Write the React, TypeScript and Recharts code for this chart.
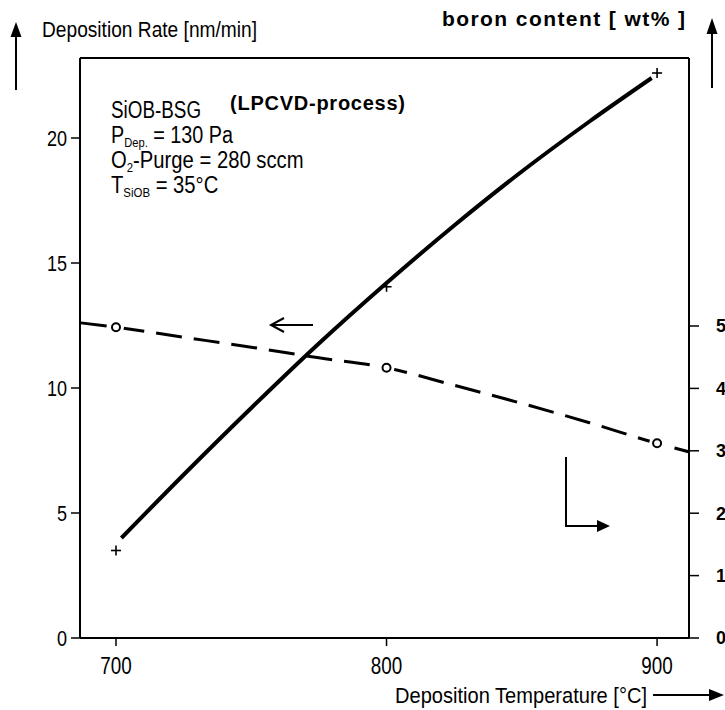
import React from "react";
import { ComposedChart, Line, Scatter, XAxis, YAxis, ReferenceLine } from "recharts";

// deposition rate curve (left axis, nm/min)
const rateT = [702, 725, 750, 775, 800, 825, 850, 875, 898];
const rateV = [4.0, 6.53, 9.2, 11.78, 14.2, 16.5, 18.66, 20.66, 22.4];
// measured points "+"
const rateMarkT = [700, 800, 900];
const rateMarkV = [3.5, 14.05, 22.6];

// boron content curve (right axis, wt%)
const boronT = [687, 700, 725, 750, 775, 800, 825, 850, 875, 900, 912];
const boronV = [5.05, 4.98, 4.82, 4.66, 4.49, 4.33, 4.05, 3.76, 3.45, 3.12, 2.98];
// measured points "o"
const boronMarkT = [700, 800, 900];
const boronMarkV = [4.98, 4.33, 3.12];

const xTicks = [700, 800, 900];
const rateTicks = [0, 5, 10, 15, 20];
const boronTicks = [0, 1, 2, 3, 4, 5];

const rateLine = rateT.map((t, i) => ({ t, v: rateV[i] }));
const rateMarks = rateMarkT.map((t, i) => ({ t, v: rateMarkV[i] }));
const boronLine = boronT.map((t, i) => ({ t, v: boronV[i] }));
const boronMarks = boronMarkT.map((t, i) => ({ t, v: boronMarkV[i] }));

const SANS = '"Liberation Sans", Arial, sans-serif';
const SQUEEZE = 0.82;

const Plus = (p: any) => (
  <g stroke="#000" strokeWidth={1.6}>
    <line x1={p.cx - 5} y1={p.cy} x2={p.cx + 5} y2={p.cy} />
    <line x1={p.cx} y1={p.cy - 5} x2={p.cx} y2={p.cy + 5} />
  </g>
);

const Ring = (p: any) => (
  <g>
    <circle cx={p.cx} cy={p.cy} r={8} fill="#fff" />
    <circle cx={p.cx} cy={p.cy} r={4} fill="#fff" stroke="#000" strokeWidth={2} />
  </g>
);

// condensed-looking tick labels
const XTick = (p: any) => (
  <text
    transform={`translate(${p.x},${p.y}) scale(${SQUEEZE},1)`}
    dy="0.71em"
    textAnchor="middle"
    fontFamily={SANS}
    fontSize={23}
    fill="#000"
  >
    {p.payload.value}
  </text>
);

const LeftTick = (p: any) => (
  <text
    transform={`translate(${p.x},${p.y}) scale(${SQUEEZE},1)`}
    dy="0.355em"
    textAnchor="end"
    fontFamily={SANS}
    fontSize={22}
    fill="#000"
  >
    {p.payload.value}
  </text>
);

const Cond = ({ x, y, size = 23, sx = SQUEEZE, children }: any) => (
  <text
    transform={`translate(${x},${y}) scale(${sx},1)`}
    fontFamily={SANS}
    fontSize={size}
    fill="#000"
  >
    {children}
  </text>
);

const Notes = () => (
  <svg
    width={725}
    height={710}
    style={{ position: "absolute", left: 0, top: 0, pointerEvents: "none" }}
  >
    {/* left axis title */}
    <line x1={16} y1={90} x2={16} y2={34} stroke="#000" strokeWidth={2} />
    <polygon points="16,22 10.5,37 21.5,37" fill="#000" />
    <text x={42} y={37} fontFamily={SANS} fontSize={22} textLength={215} lengthAdjust="spacingAndGlyphs">
      Deposition Rate [nm/min]
    </text>

    {/* right axis title */}
    <text x={442} y={26} fontFamily={SANS} fontWeight="bold" fontSize={21} textLength={243} lengthAdjust="spacing">
      boron content [ wt% ]
    </text>
    <line x1={712} y1={88} x2={712} y2={32} stroke="#000" strokeWidth={2} />
    <polygon points="712,18 706.5,34 717.5,34" fill="#000" />

    {/* process conditions */}
    <Cond x={111} y={118}>SiOB-BSG</Cond>
    <Cond x={111} y={143} sx={0.86}>
      P<tspan fontSize={13} dy={4}>Dep.</tspan>
      <tspan dy={-4}> = 130 Pa</tspan>
    </Cond>
    <Cond x={111} y={168} sx={0.88}>
      O<tspan fontSize={13} dy={4}>2</tspan>
      <tspan dy={-4}>-Purge = 280 sccm</tspan>
    </Cond>
    <Cond x={111} y={193} sx={0.88}>
      T<tspan fontSize={13} dy={4}>SiOB</tspan>
      <tspan dy={-4}> = 35°C</tspan>
    </Cond>
    <text x={230} y={110} fontFamily={SANS} fontWeight="bold" fontSize={20} textLength={175} lengthAdjust="spacing">
      (LPCVD-process)
    </text>

    {/* arrow pointing to left axis */}
    <line x1={313} y1={325} x2={272} y2={325} stroke="#000" strokeWidth={2} />
    <polyline points="284,318 271,325 284,332" fill="none" stroke="#000" strokeWidth={2} />

    {/* L-arrow pointing to right axis */}
    <polyline points="566,457 566,526 600,526" fill="none" stroke="#000" strokeWidth={2} />
    <polygon points="610,526 597,520 597,532" fill="#000" />

    {/* x axis title */}
    <text x={395} y={703} fontFamily={SANS} fontSize={22} textLength={252} lengthAdjust="spacingAndGlyphs">
      Deposition Temperature [°C]
    </text>
    <line x1={653} y1={695} x2={712} y2={695} stroke="#000" strokeWidth={2} />
    <polygon points="724,695 709,689 709,701" fill="#000" />
  </svg>
);

export default function App() {
  return (
    <div style={{ position: "absolute", left: 0, top: 0, width: 725, height: 710, background: "#fff" }}>
      <ComposedChart width={725} height={710} margin={{ top: 58, right: 0, bottom: 32, left: 30 }}>
        <XAxis
          dataKey="t"
          type="number"
          domain={[686.7, 911.8]}
          allowDataOverflow
          ticks={xTicks}
          height={40}
          tickSize={8}
          tickMargin={12}
          axisLine={{ stroke: "#000", strokeWidth: 2 }}
          tickLine={{ stroke: "#000", strokeWidth: 1.5 }}
          tick={XTick}
        />
        <YAxis
          yAxisId="left"
          type="number"
          domain={[0, 23.2]}
          allowDataOverflow
          ticks={rateTicks}
          width={50}
          tickSize={9}
          tickMargin={4}
          axisLine={{ stroke: "#000", strokeWidth: 2 }}
          tickLine={{ stroke: "#000", strokeWidth: 1.5 }}
          tick={LeftTick}
        />
        <YAxis
          yAxisId="right"
          orientation="right"
          type="number"
          domain={[0, 9.295]}
          allowDataOverflow
          ticks={boronTicks}
          width={36}
          tickSize={10}
          tickMargin={17}
          axisLine={{ stroke: "#000", strokeWidth: 2 }}
          tickLine={{ stroke: "#000", strokeWidth: 1.5 }}
          tick={{ fontFamily: SANS, fontWeight: "bold", fontSize: 18, fill: "#000" }}
        />
        <ReferenceLine yAxisId="left" y={23.2} stroke="#000" strokeWidth={2} />
        <Line
          yAxisId="right"
          data={boronLine}
          dataKey="v"
          type="monotone"
          stroke="#000"
          strokeWidth={3}
          strokeDasharray="26 12"
          dot={false}
          isAnimationActive={false}
        />
        <Line
          yAxisId="left"
          data={rateLine}
          dataKey="v"
          type="monotone"
          stroke="#000"
          strokeWidth={4}
          dot={false}
          isAnimationActive={false}
        />
        <Scatter yAxisId="right" data={boronMarks} dataKey="v" shape={Ring} isAnimationActive={false} />
        <Scatter yAxisId="left" data={rateMarks} dataKey="v" shape={Plus} isAnimationActive={false} />
      </ComposedChart>
      <Notes />
    </div>
  );
}
